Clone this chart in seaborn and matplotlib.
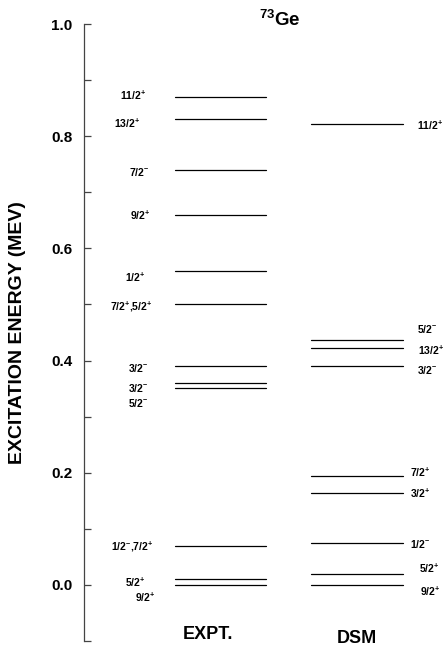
import matplotlib
matplotlib.use('Agg')
import matplotlib.pyplot as plt
import numpy as np
import pandas as pd
import seaborn as sns

# level energies (MeV) and spin/parity labels
expt_energy = [0.870, 0.830, 0.740, 0.660, 0.560, 0.500, 0.390, 0.360, 0.351, 0.069, 0.011, 0.0]
expt_spin = ['11/2$^{+}$', '13/2$^{+}$', '7/2$^{-}$', '9/2$^{+}$', '1/2$^{+}$',
             '7/2$^{+}$,5/2$^{+}$', '3/2$^{-}$', '3/2$^{-}$', '5/2$^{-}$',
             '1/2$^{-}$,7/2$^{+}$', '5/2$^{+}$', '9/2$^{+}$']
dsm_energy = [0.822, 0.437, 0.422, 0.390, 0.194, 0.164, 0.075, 0.020, 0.0]
dsm_spin = ['11/2$^{+}$', '5/2$^{-}$', '13/2$^{+}$', '3/2$^{-}$', '7/2$^{+}$',
            '3/2$^{+}$', '1/2$^{-}$', '5/2$^{+}$', '9/2$^{+}$']

# where the spin labels sit (energy units), hand-spread like the original
expt_label_y = [0.873, 0.822, 0.736, 0.658, 0.549, 0.496, 0.387, 0.351, 0.324, 0.068, 0.004, -0.023]
dsm_label_y = [0.820, 0.456, 0.419, 0.383, 0.200, 0.164, 0.073, 0.030, -0.012]
expt_label_x = [146, 140, 149, 150, 145, 152, 148, 148, 148, 153, 145, 155]
dsm_label_x = [417, 417, 418, 417, 410, 410, 410, 419, 420]

expt_span = (175, 266)
dsm_span = (311, 403)

sns.set_style('ticks')
plt.rcParams['font.family'] = ['Liberation Sans', 'DejaVu Sans']
plt.rcParams['font.weight'] = 'bold'
plt.rcParams['text.color'] = 'black'
plt.rcParams['axes.labelcolor'] = 'black'
plt.rcParams['ytick.labelcolor'] = 'black'
plt.rcParams['mathtext.fontset'] = 'custom'
plt.rcParams['mathtext.rm'] = 'Liberation Sans:bold'
plt.rcParams['mathtext.bf'] = 'Liberation Sans:bold'
plt.rcParams['mathtext.it'] = 'Liberation Sans:bold'

rows = []
for i, e in enumerate(expt_energy):
    for x in expt_span:
        rows.append({'level': 'e%d' % i, 'x': x, 'energy': e})
for i, e in enumerate(dsm_energy):
    for x in dsm_span:
        rows.append({'level': 'd%d' % i, 'x': x, 'energy': e})
df = pd.DataFrame(rows)

fig = plt.figure(figsize=(4.43, 6.48), dpi=100)
ax = fig.add_axes([84 / 443, 7 / 648, 359 / 443, 617 / 648])

sns.lineplot(data=df, x='x', y='energy', units='level', estimator=None,
             color='black', lw=0.9, sort=False, ax=ax)

for lab, y, x in zip(expt_spin, expt_label_y, expt_label_x):
    ax.text(x, y, lab, ha='right', va='center', fontsize=7.5, fontweight='bold')
for lab, y, x in zip(dsm_spin, dsm_label_y, dsm_label_x):
    ax.text(x, y, lab, ha='left', va='center', fontsize=7.5, fontweight='bold')

ax.text(208, -0.089, 'EXPT.', ha='center', va='center', fontsize=13, fontweight='bold')
ax.text(357, -0.096, 'DSM', ha='center', va='center', fontsize=13, fontweight='bold')
ax.text(280, 1.007, '$^{73}$Ge', ha='center', va='center', fontsize=13.5,
        fontweight='bold', clip_on=False)

ax.set_xlim(84, 443)
ax.set_ylim(-0.1, 1.0)
ax.set_yticks(np.arange(0, 1.01, 0.2))
ax.set_yticks(np.arange(-0.1, 1.0, 0.2), minor=True)
ax.set_yticklabels(['%.1f' % t for t in np.arange(0, 1.01, 0.2)], fontsize=11, fontweight='bold')
ax.tick_params(axis='y', which='both', direction='in', length=5, width=0.9,
               color='#444444', labelcolor='black', pad=8.5)
ax.set_ylabel('EXCITATION ENERGY (MEV)', fontsize=14, fontweight='bold', color='black')
ax.yaxis.set_label_coords(-0.1616, 0.5)
ax.xaxis.set_visible(False)
for s in ['top', 'right', 'bottom']:
    ax.spines[s].set_visible(False)
ax.spines['left'].set_color('#444444')
ax.spines['left'].set_linewidth(0.9)
ax.set_facecolor('white')

fig.savefig('out.png', dpi=100)
